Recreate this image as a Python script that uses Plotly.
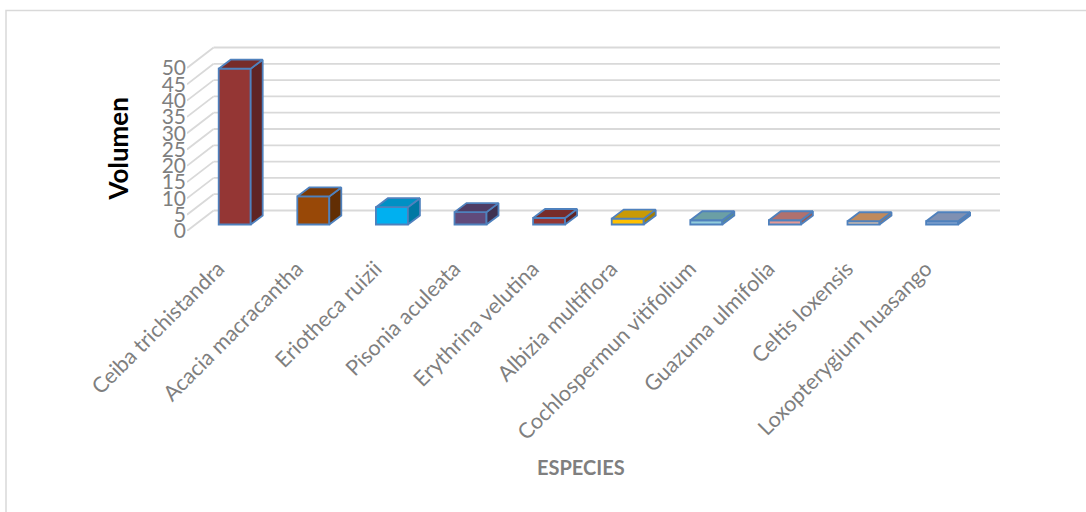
import plotly.graph_objects as go

# ---------------- data ----------------
species = [
    "Ceiba trichistandra", "Acacia macracantha", "Eriotheca ruizii",
    "Pisonia aculeata", "Erythrina velutina", "Albizia multiflora",
    "Cochlospermun vitifolium", "Guazuma ulmifolia", "Celtis loxensis",
    "Loxopterygium huasango",
]
volumen = [47.8, 8.6, 5.3, 3.8, 2.0, 1.8, 1.3, 1.3, 1.0, 1.0]
y_ticks = [0, 5, 10, 15, 20, 25, 30, 35, 40, 45, 50]

front_colors = ["#943634", "#984807", "#00b0f0", "#604a7b", "#943634",
                "#ffc000", "#92cddc", "#e59a96", "#f9cfa9", "#8eaad2"]
top_colors = ["#772c2a", "#7a3905", "#0090c4", "#4e3c64", "#772c2a",
              "#c99a06", "#6b9fa5", "#b0716e", "#c08a5c", "#7f90b2"]
side_colors = ["#5f2424", "#622e04", "#0078a4", "#3f3150", "#5f2424",
               "#a37e05", "#578a91", "#955c59", "#a5744b", "#687a9c"]

# ---------------- layout constants ----------------
W, H = 1086, 512
L, R, T, B = 187, 86, 44, 281
plot_w = W - L - R
plot_h = H - T - B
PX_CAT = 78.6     # pixels per category
PX_VAL = 3.26     # pixels per unit of volume

x_range = [-0.5, -0.5 + plot_w / PX_CAT]
y_range = [0, plot_h / PX_VAL]

WALL_DX, WALL_DY = 26.6 / PX_CAT, 20.5 / PX_VAL
FRONT_DX, FRONT_DY = 8.4 / PX_CAT, 6.5 / PX_VAL
BAR_DX, BAR_DY = 12.0 / PX_CAT, 9.0 / PX_VAL
BAR_W = 32.0 / PX_CAT

OUTLINE = "#4f81bd"
GRID = "#d9d9d9"
TEXT_GRAY = "#7f7f7f"
FONT = "Lato"


def px_to_paper(px, py):
    return (px - L) / plot_w, (H - B - py) / plot_h


fig = go.Figure()

# front faces (library bars)
xs = [i + FRONT_DX for i in range(len(species))]
fig.add_trace(go.Bar(
    x=xs, y=volumen, base=FRONT_DY, width=BAR_W,
    marker=dict(color=front_colors, line=dict(color=OUTLINE, width=1.8)),
    hoverinfo="skip", showlegend=False,
))

# top and side faces
for i, v in enumerate(volumen):
    x0 = xs[i] - BAR_W / 2
    x1 = xs[i] + BAR_W / 2
    y0 = FRONT_DY
    y1 = FRONT_DY + v
    fig.add_trace(go.Scatter(
        x=[x1, x1 + BAR_DX, x1 + BAR_DX, x1, x1],
        y=[y0, y0 + BAR_DY, y1 + BAR_DY, y1, y0],
        fill="toself", fillcolor=side_colors[i], mode="lines",
        line=dict(color=OUTLINE, width=1.8), hoverinfo="skip", showlegend=False,
    ))
    fig.add_trace(go.Scatter(
        x=[x0, x1, x1 + BAR_DX, x0 + BAR_DX, x0],
        y=[y1, y1, y1 + BAR_DY, y1 + BAR_DY, y1],
        fill="toself", fillcolor=top_colors[i], mode="lines",
        line=dict(color=OUTLINE, width=1.8), hoverinfo="skip", showlegend=False,
    ))

shapes = []
# 3D wall gridlines (side wall diagonals + back wall horizontals)
for v in y_ticks:
    shapes.append(dict(type="line", xref="x", yref="y", layer="below",
                       x0=x_range[0], y0=v, x1=x_range[0] + WALL_DX, y1=v + WALL_DY,
                       line=dict(color=GRID, width=1.8)))
    shapes.append(dict(type="line", xref="x", yref="y", layer="below",
                       x0=x_range[0] + WALL_DX, y0=v + WALL_DY, x1=x_range[1], y1=v + WALL_DY,
                       line=dict(color=GRID, width=1.8)))

# outer chart frame
fx0, fy1 = px_to_paper(6, 10.5)
fx1, fy0 = px_to_paper(W + 20, H + 20)
shapes.append(dict(type="rect", xref="paper", yref="paper", layer="below",
                   x0=fx0, y0=fy0, x1=fx1, y1=fy1,
                   line=dict(color=GRID, width=1.5), fillcolor="rgba(0,0,0,0)"))

ax_v, ay_v = px_to_paper(117.5, 149)
ax_e, ay_e = px_to_paper(581, 467)

fig.update_layout(
    width=W, height=H,
    margin=dict(l=L, r=R, t=T, b=B, pad=0),
    paper_bgcolor="white", plot_bgcolor="white",
    showlegend=False,
    shapes=shapes,
    xaxis=dict(range=x_range, tickvals=list(range(len(species))), ticktext=species,
               tickangle=-45, tickfont=dict(family=FONT, size=21.5, color=TEXT_GRAY),
               showgrid=False, zeroline=False, showline=False, ticks="",
               ticklabelstandoff=20, ticklabelshift=-8),
    yaxis=dict(range=y_range, tickvals=y_ticks,
               tickfont=dict(family=FONT, size=21, color=TEXT_GRAY),
               showgrid=False, zeroline=False, showline=False, ticks=""),
    annotations=[
        dict(text="<b>Volumen</b>", xref="paper", yref="paper", x=ax_v, y=ay_v,
             showarrow=False, textangle=-90, xanchor="center", yanchor="middle",
             font=dict(family=FONT, size=26, color="#000000")),
        dict(text="<b>ESPECIES</b>", xref="paper", yref="paper", x=ax_e, y=ay_e,
             showarrow=False, xanchor="center", yanchor="middle",
             font=dict(family=FONT, size=20, color=TEXT_GRAY)),
    ],
)

fig.write_html("out.html")
